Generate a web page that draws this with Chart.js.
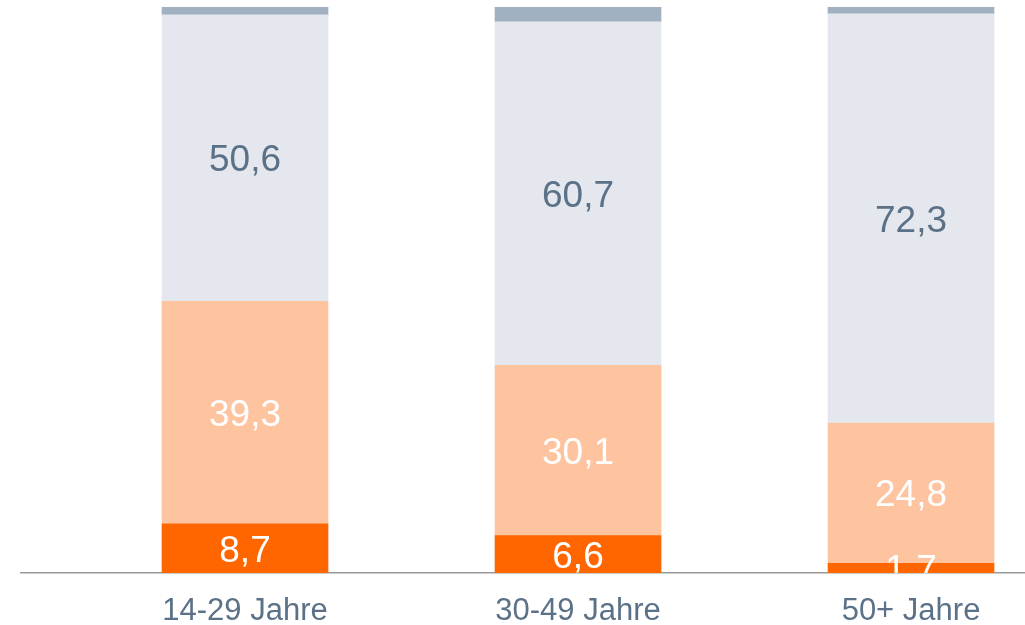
<!DOCTYPE html>
<html>
<head>
<meta charset="utf-8">
<script src="https://cdn.jsdelivr.net/npm/chart.js@4"></script>
<style>
  html, body { margin: 0; padding: 0; background: #fff; overflow: hidden; }
  #wrap { width: 1025px; height: 625px; position: relative; }
</style>
</head>
<body>
<div id="wrap"><canvas id="chart"></canvas></div>
<script>
// age groups and shares (percent) per group, stacked bottom to top
const gruppen = ["14-29 Jahre", "30-49 Jahre", "50+ Jahre"];
const stark = [8.7, 6.6, 1.7];
const mittel = [39.3, 30.1, 24.8];
const gering = [50.6, 60.7, 72.3];
const keineAngabe = [1.4, 2.6, 1.2];

const toPoints = (arr) => arr.map((v, i) => ({ x: i, y: v }));

const datasets = [
  { label: "stark", data: toPoints(stark), backgroundColor: "#ff6600", labelColor: "#ffffff" },
  { label: "mittel", data: toPoints(mittel), backgroundColor: "#fec4a0", labelColor: "#ffffff" },
  { label: "gering", data: toPoints(gering), backgroundColor: "#e4e8ee", labelColor: "#5b7187" },
  { label: "keine Angabe", data: toPoints(keineAngabe), backgroundColor: "#a1b1c1", labelColor: null },
].map((d) => ({ ...d, barThickness: 166, borderWidth: 0 }));

// value labels centred in each segment, clipped at the chart area
const segmentLabels = {
  id: "segmentLabels",
  afterDatasetsDraw(chart) {
    const { ctx, chartArea } = chart;
    const size = 37;
    ctx.save();
    ctx.beginPath();
    ctx.rect(chartArea.left, chartArea.top, chartArea.right - chartArea.left, chartArea.bottom - chartArea.top);
    ctx.clip();
    ctx.font = size + 'px "Liberation Sans", Arial, sans-serif';
    ctx.textAlign = "center";
    ctx.textBaseline = "alphabetic";
    chart.data.datasets.forEach((ds, i) => {
      if (!ds.labelColor) return;
      ctx.fillStyle = ds.labelColor;
      chart.getDatasetMeta(i).data.forEach((bar, j) => {
        const txt = ds.data[j].y.toFixed(1).replace(".", ",");
        ctx.fillText(txt, bar.x, (bar.y + bar.base) / 2 + size * 0.358);
      });
    });
    ctx.restore();
  },
};

new Chart(document.getElementById("chart"), {
  type: "bar",
  data: { datasets: datasets },
  plugins: [segmentLabels],
  options: {
    responsive: true,
    maintainAspectRatio: false,
    animation: false,
    layout: { padding: { top: 7, left: 21, right: 0, bottom: 0 } },
    plugins: { legend: { display: false }, tooltip: { enabled: false } },
    scales: {
      x: {
        type: "linear",
        stacked: true,
        offset: false,
        min: -0.6727,
        max: 2.3423,
        afterBuildTicks: (axis) => {
          axis.ticks = gruppen.map((g, i) => ({ value: i }));
        },
        afterFit: (axis) => {
          axis.height = 52;
        },
        grid: { display: false, drawTicks: false, offset: false },
        border: { display: true, color: "#9a9a9a", width: 1.5 },
        ticks: {
          autoSkip: false,
          maxRotation: 0,
          padding: 20,
          color: "#5b7187",
          font: { family: '"Liberation Sans", Arial, sans-serif', size: 31 },
          callback: (v) => gruppen[v],
        },
      },
      y: {
        stacked: true,
        min: 0,
        max: 100,
        display: false,
      },
    },
  },
});
</script>
</body>
</html>
